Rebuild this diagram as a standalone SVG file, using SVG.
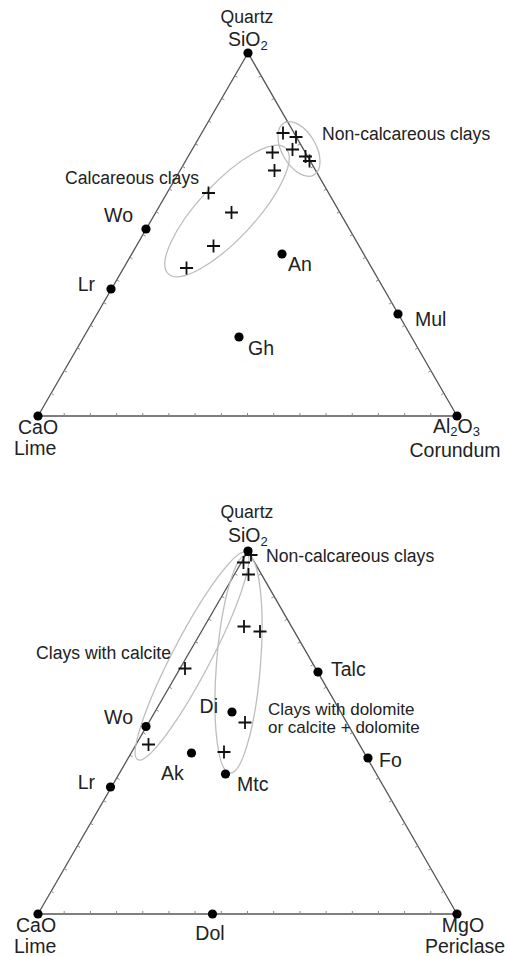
<svg xmlns="http://www.w3.org/2000/svg" xmlns:xlink="http://www.w3.org/1999/xlink" width="509" height="956" viewBox="0 0 509 956">
<style>
text{font-family:"Liberation Sans",Arial,sans-serif;fill:#222;font-size:19.5px}
.ph{font-size:17.6px}
.ph2{font-size:17px}
.edge{fill:none;stroke:#555;stroke-width:1.3}
.tick{fill:none;stroke:#888;stroke-width:1}
.ell{fill:none;stroke:#bdbdbd;stroke-width:1.3}
.pl{stroke:#111;stroke-width:1.8;fill:none}
.dot{fill:#000}
.sub{font-size:13px}
</style>
<defs>
<g id="frame">
<path class="edge" d="M248 53L38 416H457Z"/>
<path class="tick" d="M64.2 416v-3M90.4 416v-3M116.6 416v-3M142.8 416v-3M168.9 416v-3M195.1 416v-3M221.3 416v-3M247.5 416v-3M273.7 416v-3M299.9 416v-3M326.1 416v-3M352.3 416v-3M378.4 416v-3M404.6 416v-3M430.8 416v-3
M51.1 393.3l2.6 1.5M64.3 370.6l2.6 1.5M77.4 347.9l2.6 1.5M90.5 325.3l2.6 1.5M103.6 302.6l2.6 1.5M116.8 279.9l2.6 1.5M129.9 257.2l2.6 1.5M143 234.5l2.6 1.5M156.1 211.8l2.6 1.5M169.3 189.1l2.6 1.5M182.4 166.4l2.6 1.5M195.5 143.8l2.6 1.5M208.6 121.1l2.6 1.5M221.8 98.4l2.6 1.5M234.9 75.7l2.6 1.5
M261.1 75.7l-2.6 1.5M274.1 98.4l-2.6 1.5M287.2 121.1l-2.6 1.5M300.3 143.8l-2.6 1.5M313.3 166.4l-2.6 1.5M326.4 189.1l-2.6 1.5M339.4 211.8l-2.6 1.5M352.5 234.5l-2.6 1.5M365.6 257.2l-2.6 1.5M378.6 279.9l-2.6 1.5M391.7 302.6l-2.6 1.5M404.8 325.3l-2.6 1.5M417.8 347.9l-2.6 1.5M430.9 370.6l-2.6 1.5M443.9 393.3l-2.6 1.5"/>
</g>
<path id="plus" class="pl" d="M-6.5 0H6.5M0-6.5V6.5"/>
</defs>

<!-- ===== Top diagram: CaO - Al2O3 - SiO2 ===== -->
<g id="top-diagram">
<use xlink:href="#frame" href="#frame"/>
<g id="top-fields">
<ellipse class="ell" cx="227" cy="211" rx="86" ry="28" transform="rotate(-47 227 211)"/>
<ellipse class="ell" cx="299" cy="149" rx="30" ry="17" transform="rotate(60 299 149)"/>
</g>
<g id="top-samples">
<use xlink:href="#plus" href="#plus" x="283" y="133"/>
<use xlink:href="#plus" href="#plus" x="296" y="137"/>
<use xlink:href="#plus" href="#plus" x="292.5" y="149.5"/>
<use xlink:href="#plus" href="#plus" x="272.5" y="152.5"/>
<use xlink:href="#plus" href="#plus" x="305.5" y="156.5"/>
<use xlink:href="#plus" href="#plus" x="309.5" y="161"/>
<use xlink:href="#plus" href="#plus" x="274.5" y="170.5"/>
<use xlink:href="#plus" href="#plus" x="208.5" y="193"/>
<use xlink:href="#plus" href="#plus" x="231.5" y="212.5"/>
<use xlink:href="#plus" href="#plus" x="213.5" y="246"/>
<use xlink:href="#plus" href="#plus" x="186.5" y="268"/>
</g>
<g id="t-sio2"><circle class="dot" cx="248" cy="53" r="4.6"/><text class="ph" x="247" y="23" text-anchor="middle">Quartz</text><text x="228" y="46" font-size="19">SiO<tspan class="sub" dy="4">2</tspan></text></g>
<g id="t-cao"><circle class="dot" cx="38" cy="416" r="4.6"/><text x="18" y="434">CaO</text><text x="14" y="455">Lime</text></g>
<g id="t-al2o3"><circle class="dot" cx="457" cy="416" r="4.6"/><text x="433" y="433">Al<tspan class="sub" dy="3">2</tspan><tspan dy="-3">O</tspan><tspan class="sub" dy="3">3</tspan></text><text x="455" y="457" text-anchor="middle">Corundum</text></g>
<g id="t-wo"><circle class="dot" cx="146" cy="229" r="4.6"/><text x="133" y="222" text-anchor="end">Wo</text></g>
<g id="t-lr"><circle class="dot" cx="111" cy="289" r="4.6"/><text x="95" y="291" text-anchor="end">Lr</text></g>
<g id="t-an"><circle class="dot" cx="282" cy="254" r="4.6"/><text x="288" y="271">An</text></g>
<g id="t-mul"><circle class="dot" cx="398" cy="314" r="4.6"/><text x="415" y="326">Mul</text></g>
<g id="t-gh"><circle class="dot" cx="239" cy="337" r="4.6"/><text x="248" y="355">Gh</text></g>
<g id="t-calc"><text class="ph" x="199" y="184" text-anchor="end">Calcareous clays</text></g>
<g id="t-noncalc"><text class="ph" x="322" y="140">Non-calcareous clays</text></g>
</g>

<!-- ===== Bottom diagram: CaO - MgO - SiO2 ===== -->
<g id="bottom-diagram">
<use xlink:href="#frame" href="#frame" y="498"/>
<g id="bottom-fields">
<ellipse class="ell" cx="192" cy="656" rx="117" ry="19" transform="rotate(-62.4 192 656)"/>
<ellipse class="ell" cx="238.5" cy="664" rx="109.5" ry="22" transform="rotate(94.5 238.5 664)"/>
</g>
<g id="bottom-samples">
<use xlink:href="#plus" href="#plus" x="251" y="555"/>
<use xlink:href="#plus" href="#plus" x="243.5" y="562.5"/>
<use xlink:href="#plus" href="#plus" x="248.5" y="574.5"/>
<use xlink:href="#plus" href="#plus" x="244" y="626.5"/>
<use xlink:href="#plus" href="#plus" x="260" y="631.5"/>
<use xlink:href="#plus" href="#plus" x="185" y="668.5"/>
<use xlink:href="#plus" href="#plus" x="245" y="722.5"/>
<use xlink:href="#plus" href="#plus" x="148.5" y="744.5"/>
<use xlink:href="#plus" href="#plus" x="224" y="752"/>
</g>
<g id="b-sio2"><circle class="dot" cx="248" cy="551" r="4.6"/><text class="ph" x="247" y="518" text-anchor="middle">Quartz</text><text x="228" y="542" font-size="19">SiO<tspan class="sub" dy="4">2</tspan></text></g>
<g id="b-cao"><circle class="dot" cx="38" cy="914" r="4.6"/><text x="16" y="932">CaO</text><text x="14" y="953">Lime</text></g>
<g id="b-mgo"><circle class="dot" cx="457" cy="914" r="4.6"/><text x="463" y="932" text-anchor="middle">MgO</text><text x="465" y="953" text-anchor="middle">Periclase</text></g>
<g id="b-dol"><circle class="dot" cx="212.5" cy="914" r="4.6"/><text x="210" y="940" text-anchor="middle">Dol</text></g>
<g id="b-wo"><circle class="dot" cx="146" cy="726.5" r="4.6"/><text x="133" y="724" text-anchor="end">Wo</text></g>
<g id="b-lr"><circle class="dot" cx="110.5" cy="787" r="4.6"/><text x="95" y="789" text-anchor="end">Lr</text></g>
<g id="b-talc"><circle class="dot" cx="318" cy="672" r="4.6"/><text x="331" y="676">Talc</text></g>
<g id="b-di"><circle class="dot" cx="232" cy="712" r="4.6"/><text x="218" y="713" text-anchor="end">Di</text></g>
<g id="b-ak"><circle class="dot" cx="191.5" cy="753" r="4.6"/><text x="161" y="780">Ak</text></g>
<g id="b-mtc"><circle class="dot" cx="225.5" cy="774" r="4.6"/><text x="237" y="791">Mtc</text></g>
<g id="b-fo"><circle class="dot" cx="368" cy="758" r="4.6"/><text x="379" y="767">Fo</text></g>
<g id="b-noncalc"><text class="ph" x="266" y="562">Non-calcareous clays</text></g>
<g id="b-calcite"><text class="ph" x="171" y="659" text-anchor="end">Clays with calcite</text></g>
<g id="b-dolomite"><text class="ph2" x="268" y="715">Clays with dolomite</text><text class="ph2" x="268" y="732.5">or calcite + dolomite</text></g>
</g>
</svg>
